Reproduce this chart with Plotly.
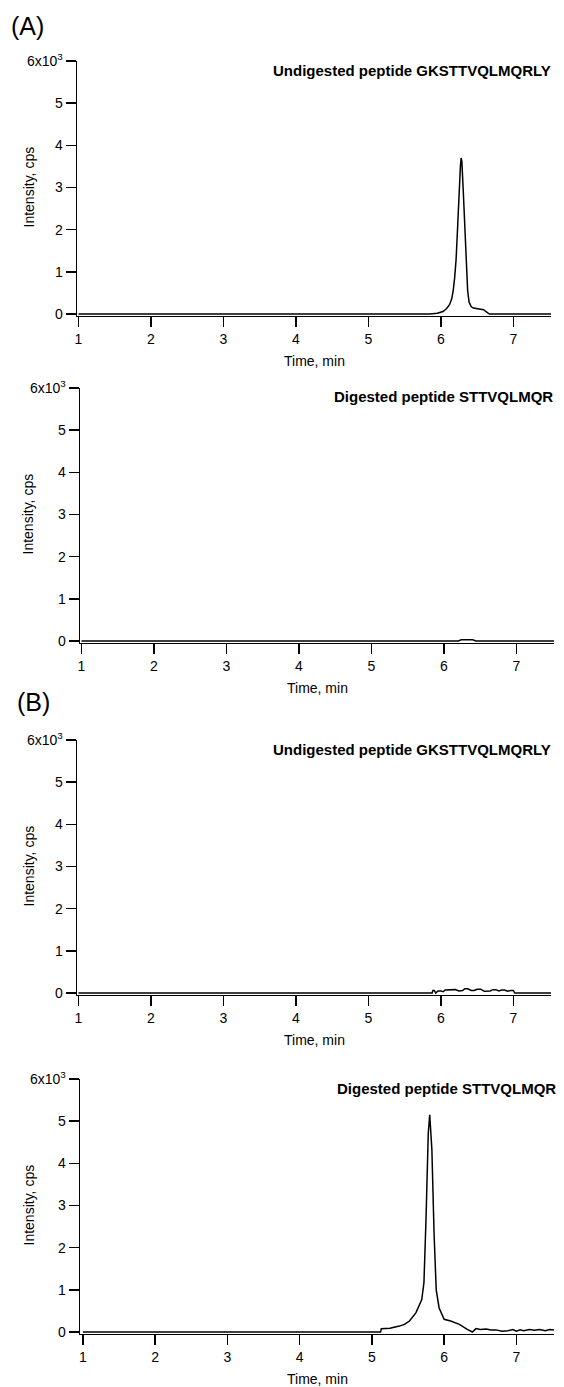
import plotly.graph_objects as go

W, H = 564, 1387

# ---------------- data (intensity in units of 10^3 cps) ----------------
t_a_undig = [1.00, 5.85, 5.95, 6.03, 6.08, 6.12, 6.15, 6.17, 6.19, 6.21, 6.23, 6.25, 6.27,
             6.28, 6.29, 6.31, 6.33, 6.35, 6.37, 6.39, 6.42, 6.45, 6.48, 6.52, 6.56,
             6.59, 6.62, 6.64, 6.67, 7.52]
i_a_undig = [0.00, 0.00, 0.02, 0.06, 0.13, 0.22, 0.36, 0.55, 0.85, 1.28, 2.00, 2.87, 3.50,
             3.70, 3.62, 2.90, 2.00, 1.25, 0.55, 0.28, 0.17, 0.14, 0.13, 0.13, 0.12,
             0.10, 0.06, 0.03, 0.00, 0.00]

t_a_dig = [1.00, 6.20, 6.24, 6.30, 6.40, 6.44, 7.52]
i_a_dig = [0.00, 0.00, 0.03, 0.035, 0.03, 0.00, 0.00]

t_b_undig = [1.00, 5.88, 5.89, 5.91, 5.93, 5.96, 6.00, 6.03, 6.06, 6.12, 6.16, 6.20, 6.25,
             6.30, 6.33, 6.37, 6.42, 6.46, 6.50, 6.55, 6.60, 6.64, 6.68, 6.72, 6.76,
             6.80, 6.84, 6.88, 6.92, 6.96, 7.00, 7.02, 7.52]
i_b_undig = [0.00, 0.00, 0.06, 0.06, 0.00, 0.05, 0.05, 0.03, 0.07, 0.07, 0.08, 0.08, 0.05,
             0.06, 0.10, 0.10, 0.06, 0.06, 0.09, 0.09, 0.04, 0.05, 0.05, 0.08, 0.08,
             0.05, 0.07, 0.07, 0.04, 0.06, 0.06, 0.00, 0.00]

t_b_dig = [1.00, 5.12, 5.13, 5.25, 5.38, 5.45, 5.52, 5.61, 5.69, 5.72, 5.75, 5.78, 5.80,
           5.83, 5.86, 5.89, 5.93, 6.00, 6.09, 6.21, 6.32, 6.39, 6.44, 6.50, 6.58,
           6.65, 6.72, 6.80, 6.88, 6.95, 7.00, 7.05, 7.10, 7.18, 7.25, 7.32, 7.40,
           7.46, 7.52]
i_b_dig = [0.00, 0.00, 0.08, 0.09, 0.14, 0.18, 0.26, 0.46, 0.77, 1.17, 2.75, 4.72, 5.15,
           4.32, 2.35, 1.00, 0.57, 0.30, 0.26, 0.18, 0.06, 0.00, 0.08, 0.06, 0.07,
           0.05, 0.05, 0.02, 0.03, 0.06, 0.02, 0.05, 0.03, 0.06, 0.04, 0.06, 0.03,
           0.06, 0.05]

titles = ["Undigested peptide GKSTTVQLMQRLY", "Digested peptide STTVQLMQR",
          "Undigested peptide GKSTTVQLMQRLY", "Digested peptide STTVQLMQR"]
ytickvals = [0, 1, 2, 3, 4, 5, 6]
yticktext = ["0", "1", "2", "3", "4", "5", "6x10<sup>3</sup>"]
xtickvals = [1, 2, 3, 4, 5, 6, 7]
xticktext = ["1", "2", "3", "4", "5", "6", "7"]
y_title = "Intensity, cps"
x_title = "Time, min"
panel_labels = ["(A)", "(B)"]

series = [(t_a_undig, i_a_undig), (t_a_dig, i_a_dig), (t_b_undig, i_b_undig), (t_b_dig, i_b_dig)]

# ---------------- layout geometry (pixels) ----------------
# (left px, right px, px of value 6, px of value 0, x-range)
geom = [
    (77, 551, 61, 314, [0.98, 7.52]),
    (80, 554, 388, 641, [0.98, 7.52]),
    (77, 551, 740, 993, [0.98, 7.52]),
    (80, 554, 1079, 1332, [0.96, 7.52]),
]
title_right = [553, 555, 553, 558]
Y_LO = -0.04
FONT = "Liberation Sans, Arial, sans-serif"

fig = go.Figure()
annotations = []
for k, ((tx, iy), (xl, xr, y6, y0, xr_), tr) in enumerate(zip(series, geom, title_right)):
    n = "" if k == 0 else str(k + 1)
    ppu = (y0 - y6) / 6.0
    ybot = y0 - Y_LO * ppu
    fig.add_trace(go.Scatter(x=tx, y=iy, mode="lines",
                             line=dict(color="black", width=1.5),
                             xaxis="x" + n, yaxis="y" + n, showlegend=False,
                             hoverinfo="skip"))
    fig.update_layout(**{
        "xaxis" + n: dict(domain=[xl / W, xr / W], range=xr_, anchor="y" + n,
                          tickvals=xtickvals, ticktext=xticktext, ticks="outside",
                          ticklen=10, tickwidth=1.5, tickcolor="black",
                          showline=True, linecolor="black", linewidth=1.5,
                          showgrid=False, zeroline=False, automargin=False,
                          tickfont=dict(family=FONT, size=14, color="black")),
        "yaxis" + n: dict(domain=[1 - ybot / H, 1 - y6 / H], range=[Y_LO, 6.0],
                          anchor="x" + n, automargin=False,
                          tickvals=ytickvals, ticktext=yticktext, ticks="outside",
                          ticklen=10, tickwidth=1.5, tickcolor="black",
                          showline=True, linecolor="black", linewidth=1.5,
                          showgrid=False, zeroline=False,
                          tickfont=dict(family=FONT, size=14, color="black")),
    })
    annotations.append(dict(text="<b>" + titles[k] + "</b>", xref="paper", yref="paper",
                            x=tr / W, y=1 - (y6 + 9) / H, xanchor="right", yanchor="middle",
                            showarrow=False, font=dict(family=FONT, size=15, color="black")))
    annotations.append(dict(text=y_title, xref="paper", yref="paper", textangle=-90,
                            x=28 / W, y=1 - ((y6 + y0) / 2) / H, xanchor="center",
                            yanchor="middle", showarrow=False,
                            font=dict(family=FONT, size=14, color="black")))
    annotations.append(dict(text=x_title, xref="paper", yref="paper",
                            x=((xl + xr) / 2) / W, y=1 - (y0 + 47) / H, xanchor="center",
                            yanchor="middle", showarrow=False,
                            font=dict(family=FONT, size=14, color="black")))

annotations.append(dict(text=panel_labels[0], xref="paper", yref="paper", x=9 / W,
                        y=1 - 26 / H, xanchor="left", yanchor="middle", showarrow=False,
                        font=dict(family=FONT, size=25, color="black")))
annotations.append(dict(text=panel_labels[1], xref="paper", yref="paper", x=15 / W,
                        y=1 - 702 / H, xanchor="left", yanchor="middle", showarrow=False,
                        font=dict(family=FONT, size=25, color="black")))

fig.update_layout(width=W, height=H, margin=dict(l=0, r=0, t=0, b=0, pad=0),
                  paper_bgcolor="white", plot_bgcolor="white",
                  annotations=annotations, showlegend=False,
                  font=dict(family=FONT, color="black"))

fig.write_html("out.html", config={"displayModeBar": False, "staticPlot": True},
               post_script="document.body.style.margin='0';document.body.style.overflow='hidden';")
